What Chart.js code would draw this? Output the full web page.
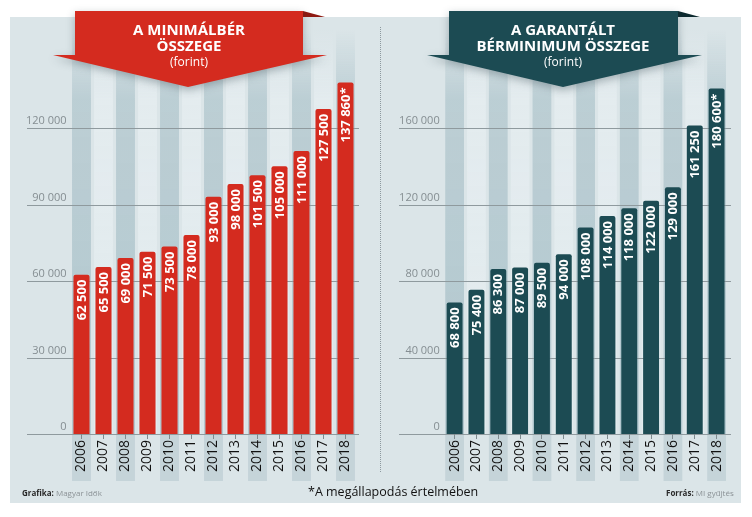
<!DOCTYPE html>
<html lang="hu">
<head>
  <meta charset="UTF-8">
  <title>Minimálbér és garantált bérminimum</title>
  <script src="https://cdn.jsdelivr.net/npm/chart.js"></script>
  <style>
    body { margin: 0; background: #fff; font-family: 'Open Sans', sans-serif; }
    #lap { position: relative; width: 752px; height: 517px; overflow: hidden; }
    #panel { position: absolute; left: 10px; top: 17px; width: 731px; height: 486px; background: #dbe5e8; }
    .doboz { position: absolute; top: 0; width: 376px; height: 517px; }
    #valaszto { position: absolute; left: 380px; top: 27px; height: 445px; border-left: 1px dotted #8d999e; }
    .labjegy { position: absolute; top: 487px; font-size: 8px; color: #8b9296; white-space: nowrap; }
    .labjegy b { color: #2a2a2a; }
    #csillag { position: absolute; left: 308px; top: 483px; font-size: 12.5px; color: #111; white-space: nowrap; }
  </style>
</head>
<body>
<div id="lap">
  <div id="panel"></div>
  <div id="valaszto"></div>
  <div class="doboz" style="left:0"><canvas id="bal"></canvas></div>
  <div class="doboz" style="left:376px"><canvas id="jobb"></canvas></div>
  <div class="labjegy" style="left:22px"><b>Grafika:</b> Magyar Idők</div>
  <div id="csillag">*A megállapodás értelmében</div>
  <div class="labjegy" style="left:666px"><b>Forrás:</b> MI gyűjtés</div>
</div>

<script>
  const evek = ['2006', '2007', '2008', '2009', '2010', '2011', '2012', '2013', '2014', '2015', '2016', '2017', '2018'];
  const minimalber = [62500, 65500, 69000, 71500, 73500, 78000, 93000, 98000, 101500, 105000, 111000, 127500, 137860];
  const berminimum = [68800, 75400, 86300, 87000, 89500, 94000, 108000, 114000, 118000, 122000, 129000, 161250, 180600];
  const balTengely = [0, 30000, 60000, 90000, 120000];
  const jobbTengely = [0, 40000, 80000, 120000, 160000];
  const megallapodas = '2018'; // csillaggal jelölt év

  Chart.defaults.font.family = "'Open Sans', sans-serif";

  const ezres = v => String(v).replace(/\B(?=(\d{3})+(?!\d))/g, ' ');

  // háttér csíkok + vízszintes rácsvonalak
  const hatter = {
    id: 'hatter',
    beforeDraw(chart, args, o) {
      const { ctx, scales: { x, y } } = chart;
      const lepes = x.getPixelForValue(1) - x.getPixelForValue(0);
      const sw = lepes * 0.86;
      const fent = 30, lent = y.bottom;
      const sotet = ctx.createLinearGradient(0, fent, 0, lent);
      sotet.addColorStop(0, 'rgba(186,205,211,0)');
      sotet.addColorStop(0.17, 'rgba(186,205,211,0.95)');
      sotet.addColorStop(1, 'rgb(178,199,206)');
      const vilagos = ctx.createLinearGradient(0, fent, 0, lent);
      vilagos.addColorStop(0, 'rgba(228,236,239,0)');
      vilagos.addColorStop(0.17, 'rgba(228,236,239,0.9)');
      vilagos.addColorStop(1, 'rgb(226,235,238)');
      ctx.save();
      evek.forEach((e, i) => {
        const cx = x.getPixelForValue(i);
        if (i % 2 === 0) {
          ctx.fillStyle = sotet;
          ctx.fillRect(cx - sw / 2, fent, sw, lent - fent);
          ctx.fillStyle = '#c5d4d9';
          ctx.fillRect(cx - sw / 2, lent, sw, 47);
        } else {
          ctx.fillStyle = vilagos;
          ctx.fillRect(cx - sw / 2, fent, sw, lent - fent);
        }
      });
      ctx.strokeStyle = '#8f9a9e';
      ctx.lineWidth = 1;
      y.ticks.forEach(t => {
        const py = Math.round(y.getPixelForValue(t.value)) + 0.5;
        ctx.beginPath();
        ctx.moveTo(o.x0, py);
        ctx.lineTo(o.x1, py);
        ctx.stroke();
      });
      ctx.restore();
    },
    afterDatasetsDraw(chart) {
      const { ctx } = chart;
      const meta = chart.getDatasetMeta(0);
      const adat = chart.data.datasets[0].data;
      ctx.save();
      ctx.fillStyle = '#fff';
      ctx.font = "bold 13px 'Open Sans', sans-serif";
      ctx.textAlign = 'right';
      ctx.textBaseline = 'middle';
      meta.data.forEach((bar, i) => {
        const szoveg = ezres(adat[i]) + (evek[i] === megallapodas ? '*' : '');
        ctx.save();
        ctx.translate(bar.x + 0.5, bar.y + 5);
        ctx.rotate(-Math.PI / 2);
        ctx.fillText(szoveg, 0, 0);
        ctx.restore();
      });
      ctx.restore();
    },
    afterDraw(chart, args, o) {
      const { ctx } = chart;
      const b = o.banner;
      ctx.save();
      ctx.fillStyle = b.sotet;
      ctx.beginPath();
      ctx.moveTo(b.r, 11); ctx.lineTo(b.r + 22, 17); ctx.lineTo(b.r, 17); ctx.closePath();
      ctx.fill();
      ctx.shadowColor = 'rgba(40,60,70,0.35)';
      ctx.shadowBlur = 8;
      ctx.shadowOffsetY = 3;
      ctx.fillStyle = b.szin;
      ctx.beginPath();
      ctx.moveTo(b.l, 11); ctx.lineTo(b.r, 11); ctx.lineTo(b.r, 55);
      ctx.lineTo(b.r + 24, 55); ctx.lineTo(b.csucs, 87); ctx.lineTo(b.l - 22, 55);
      ctx.lineTo(b.l, 55); ctx.closePath();
      ctx.fill();
      ctx.shadowColor = 'transparent';
      ctx.fillStyle = '#fff';
      ctx.textAlign = 'center';
      ctx.textBaseline = 'middle';
      ctx.font = "bold 15px 'Open Sans', sans-serif";
      ctx.fillText(b.sor1, b.kozep, 31);
      ctx.fillText(b.sor2, b.kozep, 47);
      ctx.font = "12px 'Open Sans', sans-serif";
      ctx.fillText('(forint)', b.kozep, 63);
      ctx.restore();
    }
  };

  function rajz(id, ertekek, tengely, max, szin, g, banner) {
    new Chart(document.getElementById(id), {
      type: 'bar',
      data: {
        labels: evek,
        datasets: [{
          data: ertekek,
          backgroundColor: szin,
          borderRadius: 2,
          borderSkipped: 'bottom',
          barPercentage: 0.73,
          categoryPercentage: 1
        }]
      },
      options: {
        responsive: true,
        maintainAspectRatio: false,
        animation: false,
        events: [],
        layout: { padding: { left: 0, top: 51.5, right: g.jobb, bottom: 0 } },
        plugins: {
          legend: { display: false },
          tooltip: { enabled: false },
          hatter: { x0: g.x0, x1: g.x1, banner }
        },
        scales: {
          x: {
            offset: true,
            grid: { offset: false, drawOnChartArea: false, drawTicks: true, tickLength: 5, color: '#7f8a8e' },
            border: { display: false },
            ticks: { minRotation: 90, maxRotation: 90, padding: 1, color: '#111', font: { size: 14 } },
            afterFit: s => { s.height = 83; }
          },
          y: {
            min: 0,
            max: max,
            grid: { display: false, drawTicks: false },
            border: { display: false },
            afterBuildTicks: s => { s.ticks = tengely.map(v => ({ value: v })); },
            ticks: { padding: 4, labelOffset: -7, color: '#858e92', font: { size: 11 }, callback: v => ezres(v) },
            afterFit: s => { s.width = g.bal; }
          }
        }
      },
      plugins: [hatter]
    });
  }

  rajz('bal', minimalber, balTengely, 150000, '#d42b1f',
    { bal: 70.5, jobb: 19.5, x0: 27, x1: 359 },
    { szin: '#d42b1f', sotet: '#8f1a12', l: 75, r: 303, csucs: 188, kozep: 189, sor1: 'A MINIMÁLBÉR', sor2: 'ÖSSZEGE' });

  rajz('jobb', berminimum, jobbTengely, 200000, '#1c4b53',
    { bal: 67.7, jobb: 24.5, x0: 23, x1: 355 },
    { szin: '#1c4b53', sotet: '#0d2a2f', l: 73, r: 302, csucs: 187, kozep: 187, sor1: 'A GARANTÁLT', sor2: 'BÉRMINIMUM ÖSSZEGE' });
</script>
</body>
</html>
